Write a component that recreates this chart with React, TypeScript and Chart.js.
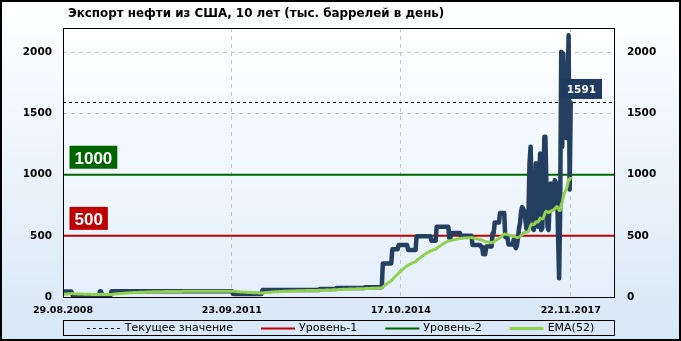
import { useEffect, useRef } from 'react';
import { Chart, registerables } from 'chart.js';

Chart.register(...registerables);

const TITLE = 'Экспорт нефти из США, 10 лет (тыс. баррелей в день)';

// Weekly US crude exports (thousand bbl/day), first week 29.08.2008.
// Flat stretches: [number of consecutive weeks, value]
const exportRuns: [number, number][] = [
  [9, 45], [26, 15], [2, 47], [9, 15], [115, 48], [28, 25], [54, 57], [16, 65], [27, 73], [17, 80],
  [9, 275], [6, 390], [9, 425], [8, 384], [14, 497], [5, 460], [12, 575],
  [2, 482], [9, 523], [11, 500], [8, 425], [2, 411], [3, 350], [6, 412], [2, 521], [5, 610], [5, 686], [3, 490], [5, 430],
];
// Last 55 weeks, one value per week
const exportLastWeeks: number[] = [
  470, 420, 400, 420, 480, 560, 605, 700, 735, 720,
  700, 640, 560, 548, 700, 1100, 1229, 900, 560, 548,
  700, 1093, 600, 575, 900, 1174, 548, 560, 800, 1310,
  1310, 900, 575, 548, 750, 929, 800, 738, 900, 956,
  929, 929, 500, 153, 700, 2005, 1229, 1992, 1528, 1400,
  1300, 1700, 2141, 880, 1591,
];

const tickWeeks = [0, 160, 320, 481];
const tickLabels = ['29.08.2008', '23.09.2011', '17.10.2014', '22.11.2017'];
const yTickValues = [0, 500, 1000, 1500, 2000];
const level1 = 500;
const level2 = 1000;
const currentValue = 1591;
const emaPeriod = 52;
const emaStart = 22; // EMA value carried in at the first week of the window
const legendLabels = ['Текущее значение', 'Уровень-1', 'Уровень-2', 'EMA(52)'];
const xMaxWeeks = 522;
const yMax = 2200;

function buildWeekly(): number[] {
  const out: number[] = [];
  for (const [n, v] of exportRuns) for (let i = 0; i < n; i++) out.push(v);
  return out.concat(exportLastWeeks);
}

function computeEma(values: number[], period: number, start: number): number[] {
  const k = 2 / (period + 1);
  const out: number[] = [];
  let e = start;
  values.forEach((v, i) => {
    e = i === 0 ? start : v * k + e * (1 - k);
    out.push(e);
  });
  return out;
}

const FONT = '"DejaVu Sans", Verdana, sans-serif';

const decor = {
  id: 'decor',
  beforeDraw(chart: any) {
    const { ctx, width, height, chartArea: a } = chart;
    ctx.save();
    let g = ctx.createLinearGradient(0, 0, 0, height);
    g.addColorStop(0, '#FFFFFF');
    g.addColorStop(1, '#D7E7F7');
    ctx.fillStyle = g;
    ctx.fillRect(0, 0, width, height);
    g = ctx.createLinearGradient(0, a.top, 0, a.bottom);
    g.addColorStop(0, '#FFFFFF');
    g.addColorStop(1, '#E4EFFB');
    ctx.fillStyle = g;
    ctx.fillRect(a.left, a.top, a.right - a.left, a.bottom - a.top);
    ctx.fillStyle = '#000';
    ctx.font = 'bold 11.9px ' + FONT;
    ctx.textAlign = 'left';
    ctx.textBaseline = 'alphabetic';
    ctx.fillText(TITLE, 68, 17);
    ctx.restore();
  },
  afterDatasetsDraw(chart: any) {
    const { ctx, chartArea: a } = chart;
    const y = chart.scales.y;
    ctx.save();
    ctx.strokeStyle = '#000';
    ctx.lineWidth = 1;
    ctx.setLineDash([]);
    ctx.strokeRect(Math.round(a.left) + 0.5, Math.round(a.top) + 0.5, Math.round(a.right - a.left), Math.round(a.bottom - a.top));

    const levelTag = (val: number, color: string) => {
      const ly = y.getPixelForValue(val);
      ctx.font = 'bold 17px "Liberation Sans", Arial, sans-serif';
      const text = String(val);
      const w = ctx.measureText(text).width + 10;
      const x0 = a.left + 6.5;
      ctx.fillStyle = color;
      ctx.fillRect(x0, ly - 29, w, 23);
      ctx.fillStyle = '#FFFFFF';
      ctx.textAlign = 'left';
      ctx.textBaseline = 'alphabetic';
      ctx.fillText(text, x0 + 5, ly - 10.5);
    };
    levelTag(level2, '#006400');
    levelTag(level1, '#C00000');

    const cy = y.getPixelForValue(currentValue);
    ctx.font = 'bold 10.5px ' + FONT;
    const ct = String(currentValue);
    const cw = ctx.measureText(ct).width + 12;
    const cx1 = a.right - 12;
    ctx.fillStyle = '#1F3B5F';
    ctx.fillRect(cx1 - cw, cy - 23.5, cw, 20);
    ctx.fillStyle = '#FFFFFF';
    ctx.textAlign = 'center';
    ctx.fillText(ct, cx1 - cw / 2, cy - 9);
    ctx.restore();
  },
  afterDraw(chart: any) {
    const { ctx, width, height, chartArea: a } = chart;
    ctx.save();
    // legend
    ctx.strokeStyle = '#000';
    ctx.lineWidth = 1;
    ctx.strokeRect(Math.round(a.left) + 0.5, 320.5, Math.round(a.right - a.left), 15);
    ctx.font = '11px ' + FONT;
    const sample = 34, gap = 4, itemGap = 28;
    const items = legendLabels.map((lbl) => {
      const ds = chart.data.datasets.find((d: any) => d.label === lbl);
      return { lbl, ds, w: sample + gap + ctx.measureText(lbl).width };
    });
    const total = items.reduce((s, it) => s + it.w, 0) + itemGap * (items.length - 1);
    let x = width / 2 - total / 2;
    const ly = 328;
    for (const it of items) {
      ctx.beginPath();
      ctx.strokeStyle = it.ds.borderColor;
      ctx.lineWidth = it.ds.borderWidth;
      ctx.setLineDash(it.ds.borderDash || []);
      ctx.moveTo(x, ly + 0.5);
      ctx.lineTo(x + sample, ly + 0.5);
      ctx.stroke();
      ctx.setLineDash([]);
      ctx.fillStyle = '#000';
      ctx.textAlign = 'left';
      ctx.textBaseline = 'middle';
      ctx.fillText(it.lbl, x + sample + gap, ly);
      x += it.w + itemGap;
    }
    // outer frame
    ctx.strokeStyle = '#000';
    ctx.strokeRect(0.5, 0.5, width - 1, height - 1);
    ctx.restore();
  },
};

export default function App() {
  const ref = useRef<HTMLCanvasElement | null>(null);
  useEffect(() => {
    document.body.style.margin = '0';
    const weekly = buildWeekly();
    const emaVals = computeEma(weekly, emaPeriod, emaStart);
    const pts = weekly.map((v, i) => ({ x: i, y: v }));
    const emaPts = emaVals.map((v, i) => ({ x: i, y: v }));
    const flat = (v: number) => [{ x: 0, y: v }, { x: xMaxWeeks, y: v }];
    const chart = new Chart(ref.current as HTMLCanvasElement, {
      type: 'line',
      data: {
        datasets: [
          { label: 'EMA(52)', data: emaPts, borderColor: '#92D050', borderWidth: 3, pointRadius: 0, order: 0, borderJoinStyle: 'round' },
          { label: 'Экспорт', data: pts, borderColor: '#243F60', borderWidth: 4.5, pointRadius: 0, order: 1, borderJoinStyle: 'round', borderCapStyle: 'round' },
          { label: 'Текущее значение', data: flat(currentValue), borderColor: '#000000', borderWidth: 1, borderDash: [3, 3], pointRadius: 0, order: 2 },
          { label: 'Уровень-2', data: flat(level2), borderColor: '#006400', borderWidth: 2, pointRadius: 0, order: 3 },
          { label: 'Уровень-1', data: flat(level1), borderColor: '#C00000', borderWidth: 2, pointRadius: 0, order: 4 },
        ] as any,
      },
      options: {
        animation: false,
        responsive: false,
        devicePixelRatio: 1,
        parsing: false as any,
        normalized: true,
        layout: { padding: { top: 28, left: 0, right: 0, bottom: 0 } },
        plugins: { legend: { display: false }, title: { display: false }, tooltip: { enabled: false } },
        scales: {
          x: {
            type: 'linear',
            min: 0,
            max: xMaxWeeks,
            afterBuildTicks: (s: any) => { s.ticks = tickWeeks.map((v) => ({ value: v })); },
            afterFit: (s: any) => { s.height = 44; },
            ticks: {
              autoSkip: false,
              maxRotation: 0,
              padding: 8,
              color: '#000',
              font: { family: FONT, size: 9.5, weight: 'bold' },
              callback: (v: any) => tickLabels[tickWeeks.indexOf(Number(v))] ?? '',
            },
            grid: { color: '#C4C4C4', lineWidth: 1, drawTicks: false },
            border: { display: false, dash: [4, 4] },
          },
          y: {
            type: 'linear',
            position: 'left',
            min: 0,
            max: yMax,
            afterBuildTicks: (s: any) => { s.ticks = yTickValues.map((v) => ({ value: v })); },
            afterFit: (s: any) => { s.width = 63; },
            ticks: { padding: 11, color: '#000', font: { family: FONT, size: 10.5, weight: 'bold' }, callback: (v: any) => String(v) },
            grid: { color: '#C4C4C4', lineWidth: 1, drawTicks: false },
            border: { display: false, dash: [4, 4] },
          },
          y2: {
            type: 'linear',
            position: 'right',
            min: 0,
            max: yMax,
            afterBuildTicks: (s: any) => { s.ticks = yTickValues.map((v) => ({ value: v })); },
            afterFit: (s: any) => { s.width = 67; },
            ticks: { padding: 13, color: '#000', font: { family: FONT, size: 10.5, weight: 'bold' }, callback: (v: any) => String(v) },
            grid: { display: false, drawTicks: false },
            border: { display: false },
          },
        },
      } as any,
      plugins: [decor],
    });
    return () => chart.destroy();
  }, []);
  return (
    <div style={{ position: 'fixed', left: 0, top: 0, width: 681, height: 341 }}>
      <canvas ref={ref} width={681} height={341} style={{ display: 'block', width: 681, height: 341 }} />
    </div>
  );
}
